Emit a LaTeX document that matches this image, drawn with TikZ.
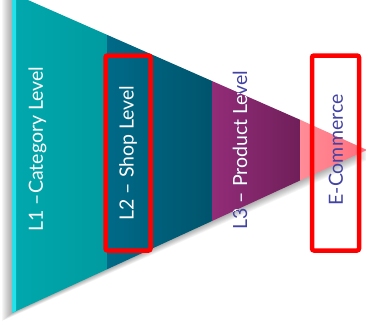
\documentclass[tikz,border=0pt]{standalone}
\usepackage{fontspec}
\setmainfont{Lato}
\definecolor{segA}{HTML}{00A8AD}
\definecolor{segAd}{HTML}{009BA0}
\definecolor{segAl}{HTML}{25E2EA}
\definecolor{segB}{HTML}{006A88}
\definecolor{segBd}{HTML}{00546C}
\definecolor{segC}{HTML}{922C78}
\definecolor{segCd}{HTML}{701F5A}
\definecolor{segD}{HTML}{FF8C97}
\definecolor{segDd}{HTML}{FF6F7D}
\definecolor{txtblue}{HTML}{4343A4}
\definecolor{boxred}{HTML}{FF0000}
\begin{document}
\begin{tikzpicture}[x=1pt,y=-1pt,
  lbl/.style={rotate=90,font=\fontsize{19.5}{22}\selectfont,inner sep=0pt},
  redbox/.style={draw=boxred,line width=4.5pt,rounded corners=2pt}]
\useasboundingbox (0,0) rectangle (366,332);
% shadow
\foreach \i in {1,...,10}{
  \fill[black,opacity=0.035] (12-\i,-7) -- (12-\i,313+0.8*\i) -- (367,150+\i) -- cycle;
}
% segments
\coordinate (a0) at (12,-7);   \coordinate (b0) at (12,313);
\coordinate (a1) at (107,34.8); \coordinate (b1) at (107,269.3);
\coordinate (a2) at (212,81);  \coordinate (b2) at (212,221);
\coordinate (a3) at (300,119.7); \coordinate (b3) at (300,180.5);
\coordinate (tip) at (367,150);
\shade[left color=segA,right color=segAd] (a0) -- (a1) -- (b1) -- (b0) -- cycle;
\fill[segAl] (a0) -- (16,-5.2) -- (16,311) -- (b0) -- cycle;
\shade[left color=segB,right color=segBd] (a1) -- (a2) -- (b2) -- (b1) -- cycle;
\shade[left color=segC,right color=segCd] (a2) -- (a3) -- (b3) -- (b2) -- cycle;
\shade[left color=segD,right color=segDd] (a3) -- (tip) -- (b3) -- cycle;
% labels
\node[lbl,text=white] (l1) at (37.5,149) {L1 –Category Level};
\node[lbl,text=white] (l2) at (128,153) {L2 – Shop Level};
\node[lbl,text=txtblue] (l3) at (240,150) {L3 – Product Level};
\begin{scope}
  \clip (a2) -- (a3) -- (b3) -- (b2) -- cycle;
  \node[lbl,text=white] (l3w) at (240,150) {L3 – Product Level};
\end{scope}
\node[lbl,text=txtblue] (l4) at (336,150) {E-Commerce};
% red boxes
\draw[redbox] (105.5,55.5) rectangle (150.5,250.5);
\draw[redbox] (312,55.5) rectangle (359,250.5);
\end{tikzpicture}
\end{document}
